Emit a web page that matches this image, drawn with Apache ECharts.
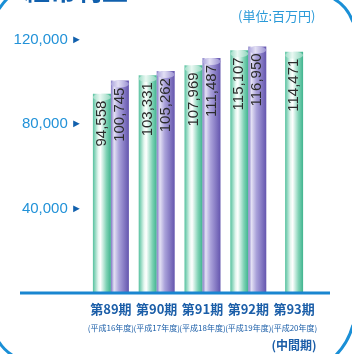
<!DOCTYPE html>
<html><head><meta charset="utf-8">
<script src="https://cdn.jsdelivr.net/npm/echarts@6/dist/echarts.min.js"></script>
<style>html,body{margin:0;padding:0;background:#fff}#c{width:352px;height:354px}</style>
</head><body><div id="c"></div>
<script>
var periods = ['第89期','第90期','第91期','第92期','第93期'];
var fiscalYears = ['(平成16年度)','(平成17年度)','(平成18年度)','(平成19年度)','(平成20年度)'];
var extraLine = ['','','','','(中間期)'];
var greenValues = [94558, 103331, 107969, 115107, '-'];
var purpleValues = [100745, 105262, 111487, 116950, '-'];
var interimValues = ['-', '-', '-', '-', 114471];
var yTicks = [0, 40000, 80000, 120000];
var unitText = '(単位:百万円)';
var titleText = '経常利益';

function grad(stops){
  return new echarts.graphic.LinearGradient(0,0,1,0, stops.map(function(s){return {offset:s[0], color:s[1]};}));
}
var greenStops = [[0,'#55c19e'],[0.3,'#e6f7f0'],[0.42,'#ffffff'],[0.75,'#7fd2b5'],[1,'#3fb48e']];
var purpleStops = [[0,'#8078c4'],[0.18,'#e4e1f4'],[0.45,'#aaa2da'],[1,'#6455ae']];
var greenCapStops = [[0,'#9ddcc6'],[0.4,'#e9f8f2'],[1,'#8fd6bd']];
var purpleCapStops = [[0,'#aaa3dc'],[0.4,'#e3e0f4'],[1,'#9a91d2']];

function fmt(v){ return v.toLocaleString('en-US'); }
function valLabel(){ return {
  show: true, position: 'insideTop', distance: 7, rotate: 90,
  align: 'right', verticalAlign: 'middle',
  color: '#2b2b2b', fontSize: 15, fontFamily: 'Liberation Sans, Arial, sans-serif',
  formatter: function(p){ return fmt(p.value); }
};}
function arc(x1,y1,cx,cy,x2,y2){
  return {type: 'bezierCurve', shape: {x1:x1,y1:y1,cpx1:cx,cpy1:cy,x2:x2,y2:y2}, style: {stroke: '#1a8fd6', lineWidth: 3, fill: 'none'}};
}

var chart = echarts.init(document.getElementById('c'), null, {renderer:'canvas'});
chart.setOption({
  animation: false,
  grid: {left: 88, right: 35, top: 40, bottom: 61},
  xAxis: [{
    type: 'category', data: periods,
    axisLine: {show: false}, axisTick: {show: false},
    axisLabel: {
      margin: 7, interval: 0,
      formatter: function(v, i){
        var s = '{a|' + v + '}\n{b|' + fiscalYears[i] + '}';
        if (extraLine[i]) s += '\n{c|' + extraLine[i] + '}';
        return s;
      },
      rich: {
        a: {fontSize: 13, fontWeight: 'bold', color: '#1b5ea8', lineHeight: 18, fontFamily: 'Noto Sans CJK JP'},
        b: {fontSize: 8, color: '#1b5ea8', lineHeight: 19, fontFamily: 'Noto Sans CJK JP'},
        c: {fontSize: 12, fontWeight: 'bold', color: '#1b5ea8', lineHeight: 17, fontFamily: 'Noto Sans CJK JP'}
      }
    }
  }, {
    type: 'category', data: periods, show: false
  }],
  yAxis: {
    type: 'value', min: yTicks[0], max: yTicks[yTicks.length-1], interval: 40000,
    splitLine: {show: false}, axisLine: {show: false}, axisTick: {show: false},
    axisLabel: {
      margin: 6,
      formatter: function(v){ return v === 0 ? '' : '{v|' + fmt(v) + '} {t|►}'; },
      rich: {
        v: {fontSize: 15, color: '#2292d8', fontFamily: 'Liberation Sans, Arial, sans-serif'},
        t: {fontSize: 11, color: '#1160ad'}
      }
    }
  },
  series: [
    {type: 'bar', name: 'g', data: greenValues, barWidth: 18, barGap: '0%', itemStyle: {color: grad(greenStops)}, label: valLabel(), z: 2},
    {type: 'bar', name: 'p', data: purpleValues, barWidth: 18, barGap: '0%', itemStyle: {color: grad(purpleStops)}, label: valLabel(), z: 2},
    {type: 'bar', name: 'i', xAxisIndex: 1, data: interimValues, barWidth: 18, itemStyle: {color: grad(greenStops)}, label: valLabel(), z: 2},
    {type: 'pictorialBar', data: greenValues, symbol: 'circle', symbolSize: [18, 7], symbolPosition: 'end', symbolOffset: [0, 0], barWidth: 18, barGap: '0%', itemStyle: {color: grad(greenCapStops)}, z: 3},
    {type: 'pictorialBar', data: purpleValues, symbol: 'circle', symbolSize: [18, 7], symbolPosition: 'end', symbolOffset: [0, 0], barWidth: 18, barGap: '0%', itemStyle: {color: grad(purpleCapStops)}, z: 3},
    {type: 'pictorialBar', xAxisIndex: 1, data: interimValues, symbol: 'circle', symbolSize: [18, 7], symbolPosition: 'end', symbolOffset: [0, 0], barWidth: 18, itemStyle: {color: grad(greenCapStops)}, z: 3}
  ],
  graphic: [
    {type: 'line', shape: {x1: 20, y1: 293, x2: 330, y2: 293}, style: {stroke: '#1a86d0', lineWidth: 3}, z: 10},
    {type: 'text', x: 238, y: 10, style: {text: unitText, fill: '#2a9ad8', font: '13px "Noto Sans CJK JP"'}},
    {type: 'text', x: 24, y: 3, style: {text: titleText, fill: '#1160ad', font: 'bold 26px "Noto Sans CJK JP"', verticalAlign: 'bottom'}},
    arc(334,-1,347,6,353,22),
    arc(353,325,348,343,336,355),
    arc(-1,342,4,350,12,355),
    arc(-1,9,3,3,7,-1)
  ]
});
</script></body></html>
